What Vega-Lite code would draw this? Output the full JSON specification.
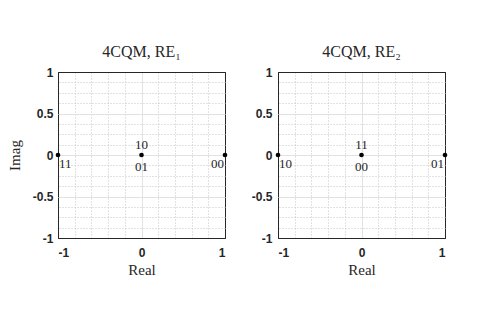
{
  "$schema": "https://vega.github.io/schema/vega-lite/v6.json",
  "padding": {"left": 6, "top": 43, "right": 5, "bottom": 5},
  "background": "white",
  "spacing": 21,
  "datasets": {
    "re1": [
      {"re": -1, "im": 0, "upper": null, "lower": "11"},
      {"re": 0, "im": 0, "upper": "10", "lower": "01"},
      {"re": 1, "im": 0, "upper": null, "lower": "00"}
    ],
    "re2": [
      {"re": -1, "im": 0, "upper": null, "lower": "10"},
      {"re": 0, "im": 0, "upper": "11", "lower": "00"},
      {"re": 1, "im": 0, "upper": null, "lower": "01"}
    ]
  },
  "config": {
    "view": {"stroke": "#262626", "strokeWidth": 1},
    "title": {"font": "Liberation Serif", "fontSize": 16, "fontWeight": "normal", "color": "#262626", "offset": 6},
    "axis": {
      "labelFont": "Liberation Sans", "labelFontWeight": "bold", "labelFontSize": 12, "labelColor": "#262626",
      "titleFont": "Liberation Serif", "titleFontWeight": "normal", "titleFontSize": 15, "titleColor": "#262626",
      "ticks": false, "domain": false, "gridWidth": 1,
      "gridColor": {"condition": {"test": "abs(datum.value) == 1", "value": "#262626"}, "value": "#e2e2e2"}
    },
    "text": {"font": "Liberation Serif", "fontSize": 13, "color": "#262626"}
  },
  "hconcat": [
    {
      "width": 167, "height": 166,
      "title": {"text": "4CQM, RE₁"},
      "data": {"name": "re1"},
      "resolve": {"axis": {"x": "independent", "y": "independent"}},
      "layer": [
        {
          "mark": {"type": "point", "opacity": 0},
          "encoding": {
            "x": {"field": "re", "type": "quantitative", "scale": {"domain": [-1, 1], "nice": false, "zero": false},
                  "axis": {"orient": "top", "values": [-0.8, -0.6, -0.4, -0.2, 0.2, 0.4, 0.6, 0.8], "labels": false, "title": null, "grid": true, "gridDash": [1, 2], "gridColor": "#c4c4c4"}},
            "y": {"field": "im", "type": "quantitative", "scale": {"domain": [-1, 1], "nice": false, "zero": false},
                  "axis": {"orient": "right", "values": [-0.875, -0.75, -0.625, -0.375, -0.25, -0.125, 0.125, 0.25, 0.375, 0.625, 0.75, 0.875], "labels": false, "title": null, "grid": true, "gridDash": [1, 2], "gridColor": "#c4c4c4"}}
          }
        },
        {
          "mark": {"type": "circle", "size": 22, "color": "black", "opacity": 1},
          "encoding": {
            "x": {"field": "re", "type": "quantitative", "axis": {"orient": "bottom", "values": [-1, 0, 1], "title": "Real", "grid": true, "labelPadding": 9, "titlePadding": 4, "labelExpr": "datum.value + ''"}},
            "y": {"field": "im", "type": "quantitative", "axis": {"orient": "left", "values": [-1, -0.5, 0, 0.5, 1], "title": "Imag", "grid": true, "labelPadding": 5, "titlePadding": 10, "labelExpr": "datum.value + ''"}}
          }
        },
        {
          "transform": [{"filter": "datum.upper != null"}],
          "mark": {"type": "text", "dy": -10, "baseline": "middle"},
          "encoding": {
            "x": {"field": "re", "type": "quantitative", "axis": null},
            "y": {"field": "im", "type": "quantitative", "axis": null},
            "text": {"field": "upper"}
          }
        },
        {
          "transform": [{"filter": "datum.re == 0"}],
          "mark": {"type": "text", "dy": 12, "baseline": "middle"},
          "encoding": {
            "x": {"field": "re", "type": "quantitative", "axis": null},
            "y": {"field": "im", "type": "quantitative", "axis": null},
            "text": {"field": "lower"}
          }
        },
        {
          "transform": [{"filter": "datum.re == -1"}],
          "mark": {"type": "text", "dy": 9, "dx": 1, "align": "left", "baseline": "middle"},
          "encoding": {
            "x": {"field": "re", "type": "quantitative", "axis": null},
            "y": {"field": "im", "type": "quantitative", "axis": null},
            "text": {"field": "lower"}
          }
        },
        {
          "transform": [{"filter": "datum.re == 1"}],
          "mark": {"type": "text", "dy": 9, "dx": -1, "align": "right", "baseline": "middle"},
          "encoding": {
            "x": {"field": "re", "type": "quantitative", "axis": null},
            "y": {"field": "im", "type": "quantitative", "axis": null},
            "text": {"field": "lower"}
          }
        }
      ]
    },
    {
      "width": 167, "height": 166,
      "title": {"text": "4CQM, RE₂"},
      "data": {"name": "re2"},
      "resolve": {"axis": {"x": "independent", "y": "independent"}},
      "layer": [
        {
          "mark": {"type": "point", "opacity": 0},
          "encoding": {
            "x": {"field": "re", "type": "quantitative", "scale": {"domain": [-1, 1], "nice": false, "zero": false},
                  "axis": {"orient": "top", "values": [-0.8, -0.6, -0.4, -0.2, 0.2, 0.4, 0.6, 0.8], "labels": false, "title": null, "grid": true, "gridDash": [1, 2], "gridColor": "#c4c4c4"}},
            "y": {"field": "im", "type": "quantitative", "scale": {"domain": [-1, 1], "nice": false, "zero": false},
                  "axis": {"orient": "right", "values": [-0.875, -0.75, -0.625, -0.375, -0.25, -0.125, 0.125, 0.25, 0.375, 0.625, 0.75, 0.875], "labels": false, "title": null, "grid": true, "gridDash": [1, 2], "gridColor": "#c4c4c4"}}
          }
        },
        {
          "mark": {"type": "circle", "size": 22, "color": "black", "opacity": 1},
          "encoding": {
            "x": {"field": "re", "type": "quantitative", "axis": {"orient": "bottom", "values": [-1, 0, 1], "title": "Real", "grid": true, "labelPadding": 9, "titlePadding": 4, "labelExpr": "datum.value + ''"}},
            "y": {"field": "im", "type": "quantitative", "axis": {"orient": "left", "values": [-1, -0.5, 0, 0.5, 1], "title": null, "grid": true, "labelPadding": 6, "labelExpr": "datum.value + ''"}}
          }
        },
        {
          "transform": [{"filter": "datum.upper != null"}],
          "mark": {"type": "text", "dy": -10, "baseline": "middle"},
          "encoding": {
            "x": {"field": "re", "type": "quantitative", "axis": null},
            "y": {"field": "im", "type": "quantitative", "axis": null},
            "text": {"field": "upper"}
          }
        },
        {
          "transform": [{"filter": "datum.re == 0"}],
          "mark": {"type": "text", "dy": 12, "baseline": "middle"},
          "encoding": {
            "x": {"field": "re", "type": "quantitative", "axis": null},
            "y": {"field": "im", "type": "quantitative", "axis": null},
            "text": {"field": "lower"}
          }
        },
        {
          "transform": [{"filter": "datum.re == -1"}],
          "mark": {"type": "text", "dy": 9, "dx": 1, "align": "left", "baseline": "middle"},
          "encoding": {
            "x": {"field": "re", "type": "quantitative", "axis": null},
            "y": {"field": "im", "type": "quantitative", "axis": null},
            "text": {"field": "lower"}
          }
        },
        {
          "transform": [{"filter": "datum.re == 1"}],
          "mark": {"type": "text", "dy": 9, "dx": -1, "align": "right", "baseline": "middle"},
          "encoding": {
            "x": {"field": "re", "type": "quantitative", "axis": null},
            "y": {"field": "im", "type": "quantitative", "axis": null},
            "text": {"field": "lower"}
          }
        }
      ]
    }
  ]
}
